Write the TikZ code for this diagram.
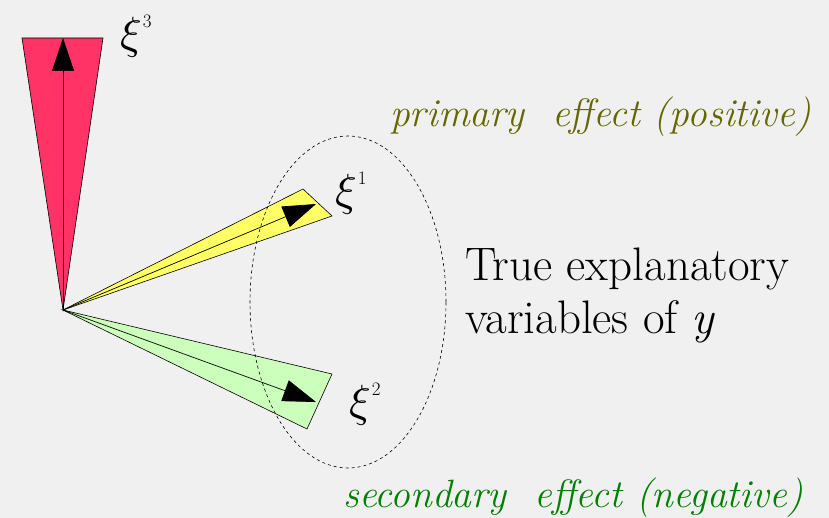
\documentclass[tikz,border=0pt]{standalone}
\usepackage{fontspec}
\usepackage{graphicx}
\usetikzlibrary{arrows.meta,shapes.geometric}
\definecolor{bg}{HTML}{F0F0F0}
\definecolor{redfill}{HTML}{FF3366}
\definecolor{yelfill}{HTML}{FFFF66}
\definecolor{grnfill}{HTML}{CCFFBB}
\definecolor{olive}{HTML}{666600}
\definecolor{dgreen}{HTML}{008000}
\tikzset{
  wedge/.style={draw=black, line width=0.6pt, line join=miter},
  vec/.style={draw=black, line width=0.7pt, -{Triangle[length=33pt,width=22pt]}},
  xilabel/.style={anchor=base west, inner sep=0pt},
  effect/.style={anchor=base west, inner sep=0pt, font=\fontsize{39.5}{40}\selectfont\itshape},
  maintext/.style={anchor=base west, inner sep=0pt, font=\fontsize{47}{53}\selectfont, align=left},
}
\newcommand{\xisym}[1]{{\fontsize{10}{12}\selectfont\scalebox{4.5}{$\xi$}}\kern1pt\raisebox{21pt}{\fontsize{19}{19}\selectfont #1}}
\begin{document}
\begin{tikzpicture}[x=1pt,y=-1pt]
\fill[bg] (0,0) rectangle (829,518);
\useasboundingbox (0,0) rectangle (829,518);
\coordinate (O) at (63,310);
\coordinate (r1) at (22,38);
\coordinate (r2) at (103,38);
\coordinate (rtip) at (63,38);
\coordinate (y1) at (303,189);
\coordinate (y2) at (332,216);
\coordinate (ytip) at (316,204);
\coordinate (g1) at (332,374);
\coordinate (g2) at (307,429);
\coordinate (gtip) at (316,402);
% wedges
\draw[wedge, fill=redfill] (O) -- (r1) -- (r2) -- cycle;
\draw[wedge, fill=yelfill] (O) -- (y1) -- (y2) -- cycle;
\draw[wedge, fill=grnfill] (O) -- (g1) -- (g2) -- cycle;
% vectors
\draw[vec] (O) -- (rtip);
\draw[vec] (O) -- (ytip);
\draw[vec] (O) -- (gtip);
% dashed ellipse
\node[draw=black, dashed, line width=0.6pt, ellipse, minimum width=196pt, minimum height=332pt, inner sep=0pt] (ell) at (348,302) {};
% xi labels
\node[xilabel] (xi3) at (120,49) {\xisym{3}};
\node[xilabel] (xi1) at (335,206) {\xisym{1}};
\node[xilabel] (xi2) at (349,416) {\xisym{2}};
% texts
\node[effect, text=olive] (prim) at (390,127) {primary\ \ effect (positive)};
\node[effect, text=dgreen] (sec) at (343,507) {secondary\ \ effect (negative)};
\node[maintext] (true) at (465,333) {True explanatory\\variables of \textit{y}};
\end{tikzpicture}
\end{document}
